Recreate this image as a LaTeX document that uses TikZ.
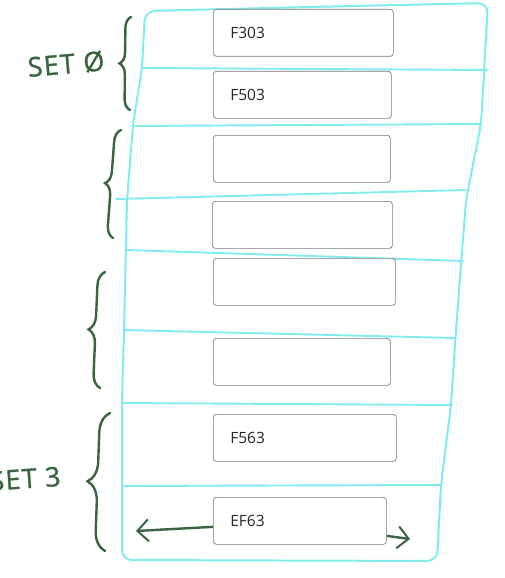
\documentclass[tikz,border=0pt]{standalone}
\usepackage{fontspec}
\setmainfont{Open Sans}
\usepackage{tikz}
\usetikzlibrary{arrows.meta, decorations.pathreplacing}
\usepackage{xcolor}
\definecolor{penCyan}{RGB}{128,236,240}
\definecolor{penGreen}{RGB}{58,100,64}
\newcommand{\SetLabel}[1]{\addfontfeature{LetterSpace=5,FakeBold=1.2}#1}

\begin{document}
\begin{tikzpicture}[
  x=1pt, y=-1pt,
  every node/.style={font=\fontsize{15.5}{18}\selectfont},
  field/.style={draw=gray!95!black, line width=0.7pt, rounded corners=3pt, fill=white,
                anchor=north west, minimum height=47pt, text width=#1,
                inner xsep=17pt, align=left, text=black!85},
  field/.default=146pt,
  frame/.style={draw=penCyan, line width=2pt, line join=round, line cap=round},
  rule/.style={draw=penCyan, line width=1.9pt, line cap=round},
  hbrace/.style={draw=penGreen, line width=2.4pt, line cap=round,
                 decorate, decoration={brace, amplitude=#1, aspect=0.5}},
  setlbl/.style={text=penGreen, font=\fontsize{27}{30}\selectfont},
  hand/.style={-{Straight Barb[length=11pt, width=22pt, line width=2pt]},
               draw=penGreen, line width=2.4pt}
]
\useasboundingbox (0,0) rectangle (505,578);

% outline of the sheet
\draw[frame, rounded corners=10pt]
  (145,11) -- (310,7) -- (488,3) -- (481,124) -- (466,200) -- (456,330)
  -- (451,405) -- (441,485) -- (437,561) -- (122,560) -- (122,400)
  -- (124,330) -- (127,200) -- (133,124) -- (142,68) -- cycle;

% rows
\foreach \xa/\ya/\xb/\yb in {142/68/487/70, 133/126/482/124, 116/199/466/190,
                              127/250/463/261, 123/330/455/338, 122/403/452/405,
                              122/486/440/485}
  \draw[rule] (\xa,\ya) -- (\xb,\yb);

% sets
\draw[hbrace=11pt] (130,110) -- (131,17);
\draw[hbrace=12pt] (113,238) -- (121,130);
\draw[hbrace=14pt] (100,388) -- (105,272);
\draw[hbrace=20pt] (105,551) -- (110,413);

\node[setlbl, rotate=5] (set0) at (66,64) {\SetLabel{SET Ø}};
\node[setlbl, anchor=east, rotate=4] (set3) at (64,476) {\SetLabel{SET 3}};

% fields
\node[field]        (f303) at (213,9)   {F303};
\node[field=144pt]  (f503) at (213,71)  {F503};
\node[field=143pt]  (e1)   at (213,135) {};
\node[field]        (e2)   at (212,201) {};
\node[field=148pt]  (e3)   at (213,258) {};
\node[field=143pt]  (e4)   at (213,338) {};
\node[field=149pt]  (f563) at (213,414) {F563};
\node[field=139pt]  (ef63) at (213,497) {EF63};

% scroll arrows
\coordinate (lftip) at (136,531);
\coordinate (rttip) at (410,539);
\draw[hand] (ef63.west) ++(0,6) -- (lftip);
\draw[hand] (ef63.east) ++(0,15) -- (rttip);
\end{tikzpicture}
\end{document}
